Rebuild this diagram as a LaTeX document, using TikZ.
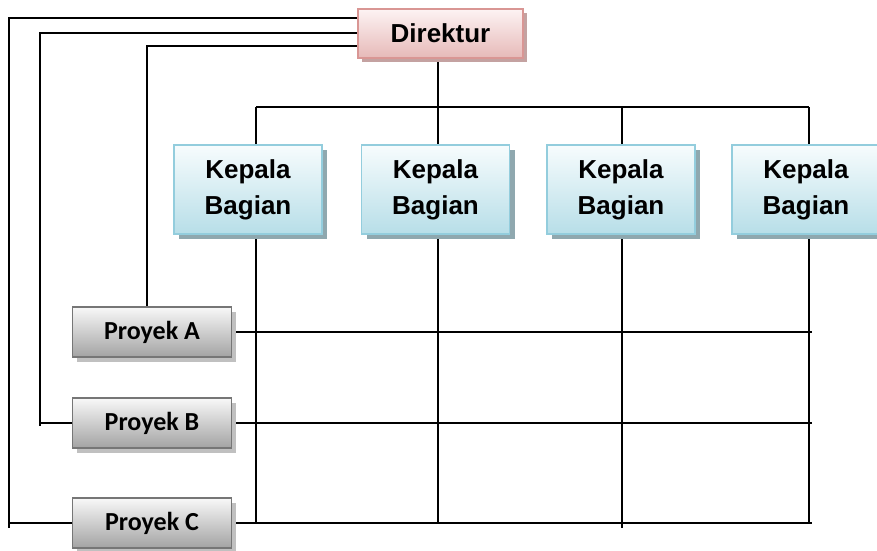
\documentclass[tikz,border=0pt]{standalone}
\usepackage{fontspec}
\setmainfont{Liberation Sans}
\newfontfamily\proyekfont{Carlito}
\usetikzlibrary{shadows}
\pgfdeclarelayer{background}
\pgfsetlayers{background,main}

\definecolor{dirline}{HTML}{D99694}
\definecolor{dirtop}{HTML}{FDF3F3}
\definecolor{dirbot}{HTML}{E6B9B8}
\definecolor{dirshade}{HTML}{C4A2A1}
\definecolor{kbline}{HTML}{93CDDD}
\definecolor{kbtop}{HTML}{F7FCFD}
\definecolor{kbbot}{HTML}{B7DEE8}
\definecolor{kbshade}{HTML}{8FA8AF}
\definecolor{pjline}{HTML}{767676}
\definecolor{pjtop}{HTML}{F8F8F8}
\definecolor{pjbot}{HTML}{A3A3A3}
\definecolor{pjshade}{HTML}{C0C0C0}

\tikzset{
  box/.style={rectangle, inner sep=0pt, line width=1.8pt, align=center,
    font=\bfseries\fontsize{26}{37}\selectfont},
  dirbox/.style={box, draw=dirline, top color=dirtop, bottom color=dirbot,
    minimum width=165pt, minimum height=49pt,
    drop shadow={shadow xshift=4pt, shadow yshift=-4pt, fill=dirshade, opacity=1}},
  kbbox/.style={box, draw=kbline, top color=kbtop, bottom color=kbbot,
    minimum width=148pt, minimum height=89pt,
    drop shadow={shadow xshift=5pt, shadow yshift=-5pt, fill=kbshade, opacity=1}},
  pjbox/.style={box, draw=pjline, top color=pjtop, bottom color=pjbot,
    minimum width=159pt, minimum height=50pt,
    font=\proyekfont\bfseries\fontsize{26}{30}\selectfont,
    drop shadow={shadow xshift=4pt, shadow yshift=-5pt, fill=pjshade, opacity=1}},
  wire/.style={line width=1.7pt, black}
}

\begin{document}
\begin{tikzpicture}[x=1pt, y=-1pt]
  \useasboundingbox (0,0) rectangle (877,550);
  \clip (0,0) rectangle (877,550);

  % boxes
  \node[dirbox] (dir) at (440.5,33.5) {Direktur};
  \node[kbbox] (kb1) at (248,189.5) {Kepala\\[-1pt]Bagian};
  \node[kbbox] (kb2) at (435.5,189.5) {Kepala\\[-1pt]Bagian};
  \node[kbbox] (kb3) at (621,189.5) {Kepala\\[-1pt]Bagian};
  \node[kbbox] (kb4) at (806,189.5) {Kepala\\[-1pt]Bagian};
  \node[pjbox] (pa) at (152,332) {\raisebox{-2pt}{Proyek A}};
  \node[pjbox] (pb) at (152,423) {\raisebox{-2pt}{Proyek B}};
  \node[pjbox] (pc) at (152,523) {\raisebox{-2pt}{Proyek C}};

  % guide positions for the lines
  \coordinate (b1) at (256,107);
  \coordinate (b2) at (438,107);
  \coordinate (b3) at (622,107);
  \coordinate (b4) at (809,107);
  \coordinate (l1) at (9,0);
  \coordinate (l2) at (40,0);
  \coordinate (l3) at (147,0);
  \coordinate (r) at (812,0);

  \begin{pgfonlayer}{background}
    % director to department heads
    \draw[wire] (dir.south -| b2) -- (b2);
    \draw[wire] (b1) -- (b4);
    \foreach \i in {1,...,4}
      \draw[wire] (b\i) -- (kb\i.north -| b\i);

    % department columns
    \draw[wire] (kb1.south -| b1) -- (pc.east -| b1);
    \draw[wire] (kb2.south -| b2) -- ([yshift=-1pt]pc.east -| b2);
    \draw[wire] (kb3.south -| b3) -- ([yshift=-5pt]pc.east -| b3);
    \draw[wire] (kb4.south -| b4) -- (pc.east -| b4);

    % project rows
    \draw[wire] (pa.east) -- (pa.east -| r);
    \draw[wire] (pb.east) -- (pb.east -| r);
    \draw[wire] (pc.east) -- (pc.east -| r);

    % director to projects
    \draw[wire] ([yshift=15.5pt]dir.west) -| ([yshift=-5pt]pc.west -| l1);
    \draw[wire] (pc.west -| l1) -- (pc.west);
    \draw[wire] ([yshift=0.5pt]dir.west) -| ([yshift=-3pt]pb.west -| l2);
    \draw[wire] (pb.west -| l2) -- (pb.west);
    \draw[wire] ([yshift=-12.5pt]dir.west) -| (pa.north -| l3);
  \end{pgfonlayer}
\end{tikzpicture}
\end{document}
